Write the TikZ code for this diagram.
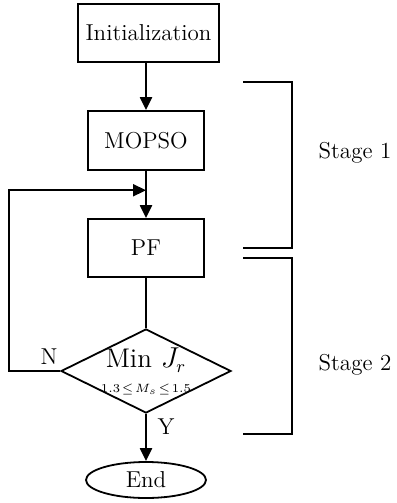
\documentclass[tikz,border=0pt]{standalone}
\usetikzlibrary{shapes.geometric,arrows.meta,calc}
\begin{document}
\begin{tikzpicture}[x=0.5pt,y=-0.5pt,
  font=\fontsize{11.5}{13}\selectfont,
  box/.style={draw,line width=0.9pt,inner sep=0pt},
  flow/.style={line width=1.1pt,-{Triangle[length=6.5pt,width=6pt]}},
  plain/.style={line width=1.1pt},
  bracket/.style={line width=0.6pt}]
\useasboundingbox (0,0) rectangle (396,503);
\node[box,minimum width=70.5pt,minimum height=29pt] (init) at (148.5,33) {Initialization};
\node[box,minimum width=58pt,minimum height=29.5pt] (mopso) at (146,140.5) {MOPSO};
\node[box,minimum width=58pt,minimum height=29pt] (pf) at (146,248) {PF};
\node[box,diamond,minimum width=85pt,minimum height=42pt] (dec) at (146,371) {};
\node[font=\fontsize{13.5}{15}\selectfont] (dtxt) at (146,360) {Min $J_r$};
\node[font=\fontsize{6.5}{7.5}\selectfont] (dsub) at (146,389) {$1.3\!\le\! M_s\!\le\!1.5$};
\node[box,ellipse,minimum width=60pt,minimum height=18pt] (end) at (146,480) {End};
\coordinate (j) at ($(mopso.south)!0.41!(pf.north)$);
\coordinate (lb) at (9,371);
\draw[flow] (mopso.north |- init.south) -- (mopso);
\draw[flow] (mopso) -- (pf);
\draw[plain] (pf) -- (dec);
\draw[flow] (dec) -- (end);
\draw[flow] (dec.west) -- (lb) |- (j);
\node (n) at (49,357) {N};
\node (y) at (166,427) {Y};
\draw[bracket] (243,82) -- (292,82) -- (292,248) -- (243,248);
\draw[bracket] (243,258) -- (292,258) -- (292,434) -- (243,434);
\node (s1) at (355,153) {Stage 1};
\node (s2) at (355,365) {Stage 2};
\end{tikzpicture}
\end{document}
